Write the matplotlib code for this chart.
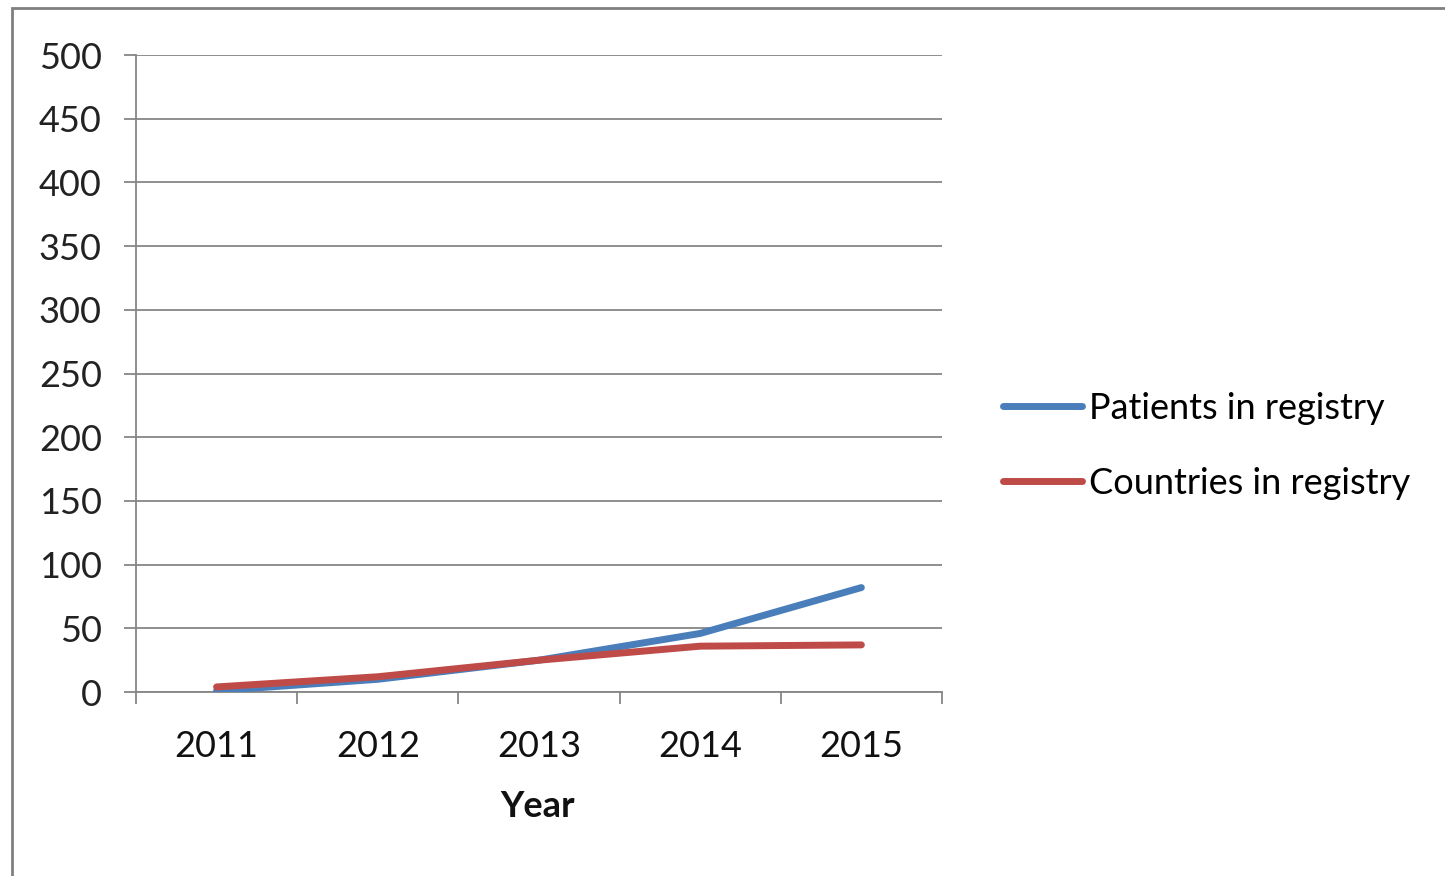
import matplotlib.pyplot as plt
import matplotlib.patches as patches

years = ["2011", "2012", "2013", "2014", "2015"]
patients = [1, 10, 25, 46, 82]
countries = [4, 12, 25, 36, 37]
y_ticks = [0, 50, 100, 150, 200, 250, 300, 350, 400, 450, 500]

plt.rcParams['font.family'] = ['Lato', 'DejaVu Sans']
grey = '#868686'
fs = 26

fig = plt.figure(figsize=(14.45, 8.76), dpi=100)
ax = fig.add_axes([0.0941, 0.2100, 0.5578, 0.7272])

x = list(range(len(years)))
ax.plot(x, patients, color='#4A7EBB', lw=5, solid_capstyle='round', label='Patients in registry', zorder=3)
ax.plot(x, countries, color='#BE4B48', lw=5, solid_capstyle='round', label='Countries in registry', zorder=3)

ax.set_xlim(-0.5, len(years) - 0.5)
ax.set_ylim(0, 500)
ax.set_yticks(y_ticks)
ax.set_xticks(x)
ax.set_xticklabels(years)
ax.set_xticks([i - 0.5 for i in range(len(years) + 1)], minor=True)

ax.grid(axis='y', color=grey, lw=1.3)
ax.set_axisbelow(True)
for s in ['top', 'right']:
    ax.spines[s].set_visible(False)
for s in ['left', 'bottom']:
    ax.spines[s].set_color(grey)
    ax.spines[s].set_linewidth(1.3)

ax.tick_params(axis='y', length=8.6, width=1.3, color=grey, labelsize=fs, pad=16, labelcolor='#222222')
ax.tick_params(axis='x', which='major', length=0, labelsize=fs, pad=27, labelcolor='#111111')
ax.tick_params(axis='x', which='minor', length=8.6, width=1.3, color=grey)

fig.text(0.3723, 0.0799, 'Year', ha='center', va='center', fontsize=fs, fontweight='bold', color='#111111')

ax.legend(loc='center left', bbox_to_anchor=(0.694, 0.491), bbox_transform=fig.transFigure,
          frameon=False, fontsize=fs, handlelength=2.2, handletextpad=0.2, labelspacing=1.15,
          borderaxespad=0, borderpad=0)

frame = patches.Rectangle((0.0083, -0.05), 1.1, 0.9909 + 0.05, transform=fig.transFigure,
                          fill=False, edgecolor='#808080', lw=2, clip_on=False)
fig.patches.append(frame)

fig.savefig('out.png', dpi=100)
